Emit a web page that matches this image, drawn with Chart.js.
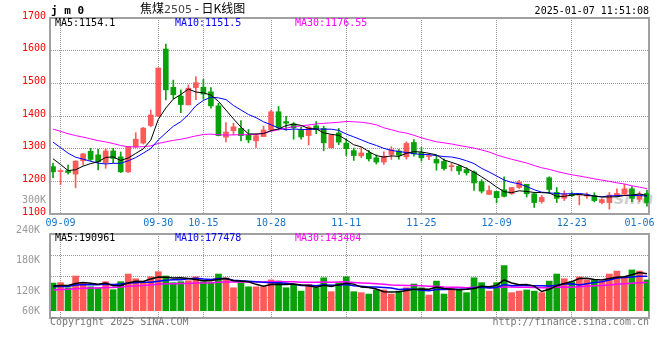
<!DOCTYPE html>
<html>
<head>
<meta charset="utf-8">
<title>焦煤2505 日K线图</title>
<script src="https://cdn.jsdelivr.net/npm/chart.js@4.4.1/dist/chart.umd.min.js"></script>
<style>
  body { margin: 0; background: #fff; }
  #box { position: relative; width: 660px; height: 360px; overflow: hidden;
         font-family: 'DejaVu Sans Mono', monospace; font-size: 10px; line-height: 12px; }
  #box canvas { position: absolute; left: 0; top: 0; }
  .txt { position: absolute; white-space: nowrap; }
</style>
</head>
<body>
<div id="box">
  <div class="txt" style="left:614px;top:188px;font:italic bold 17px 'DejaVu Sans',sans-serif;color:rgba(150,150,150,0.45);">sina</div>
  <canvas id="priceChart" width="660" height="360"></canvas>
  <canvas id="volChart" width="660" height="360"></canvas>

  <div class="txt" style="left:51px;top:4px;font-weight:bold;font-size:11px;line-height:14px;">j m 0</div>
  <div class="txt" style="left:140px;top:0px;font-family:'Noto Sans CJK SC',sans-serif;font-size:12px;line-height:16px;">焦煤<span style="color:#444;font-family:'DejaVu Sans',sans-serif;font-size:11px;">2505</span> - 日K线图</div>
  <div class="txt" style="right:11px;top:5px;">2025-01-07 11:51:08</div>

  <div class="txt" style="left:55px;top:17px;color:#000;">MA5:1154.1</div>
  <div class="txt" style="left:175px;top:17px;color:#0000ff;">MA10:1151.5</div>
  <div class="txt" style="left:295px;top:17px;color:#ff00ff;">MA30:1176.55</div>
  <div class="txt" style="left:22px;top:194px;color:#999;">300K</div>

  <div class="txt" style="left:55px;top:232px;color:#000;">MA5:190961</div>
  <div class="txt" style="left:175px;top:232px;color:#0000ff;">MA10:177478</div>
  <div class="txt" style="left:295px;top:232px;color:#ff00ff;">MA30:143404</div>

  <div class="txt" style="left:50px;top:316px;color:#777;">Copyright 2025 SINA.COM</div>
  <div class="txt" style="right:11px;top:316px;color:#777;">http://finance.sina.com.cn</div>
</div>

<script>
// trading days shown, 09-06 .. 01-07
var dates = [
  '09-06','09-09','09-10','09-11','09-12','09-13','09-18','09-19','09-20','09-23',
  '09-24','09-25','09-26','09-27','09-30','10-08','10-09','10-10','10-11','10-14',
  '10-15','10-16','10-17','10-18','10-21','10-22','10-23','10-24','10-25','10-28',
  '10-29','10-30','10-31','11-01','11-04','11-05','11-06','11-07','11-08','11-11',
  '11-12','11-13','11-14','11-15','11-18','11-19','11-20','11-21','11-22','11-25',
  '11-26','11-27','11-28','11-29','12-02','12-03','12-04','12-05','12-06','12-09',
  '12-10','12-11','12-12','12-13','12-16','12-17','12-18','12-19','12-20','12-23',
  '12-24','12-25','12-26','12-27','12-30','12-31','01-02','01-03','01-06','01-07'
];

var open = [
  1245,1230,1233,1222,1263,1292,1281,1257,1293,1275,
  1229,1305,1317,1371,1400,1605,1488,1461,1434,1487,
  1488,1474,1431,1335,1355,1362,1342,1324,1337,1357,
  1413,1383,1376,1356,1340,1370,1362,1303,1348,1317,
  1294,1278,1286,1272,1259,1282,1293,1275,1319,1288,
  1276,1267,1261,1245,1246,1236,1229,1199,1160,1169,
  1174,1162,1181,1191,1162,1138,1211,1166,1148,1161,
  1158,1155,1156,1135,1135,1155,1161,1177,1145,1163
];
var high = [
  1256,1236,1250,1263,1286,1301,1298,1300,1301,1290,
  1306,1349,1365,1418,1547,1620,1510,1480,1495,1521,
  1512,1487,1439,1380,1378,1386,1359,1345,1369,1418,
  1429,1399,1380,1366,1369,1383,1369,1342,1362,1330,
  1302,1304,1295,1281,1290,1306,1297,1321,1328,1304,
  1283,1280,1269,1256,1249,1242,1232,1205,1186,1169,
  1214,1181,1203,1191,1165,1157,1214,1181,1171,1168,
  1161,1165,1165,1147,1166,1177,1191,1184,1168,1173
];
var low = [
  1211,1190,1222,1180,1250,1262,1235,1240,1257,1227,
  1227,1304,1314,1367,1398,1449,1453,1410,1434,1450,
  1451,1424,1339,1321,1342,1324,1318,1304,1337,1357,
  1357,1357,1329,1329,1311,1346,1294,1303,1312,1279,
  1264,1272,1262,1253,1252,1267,1268,1268,1277,1262,
  1266,1234,1234,1232,1221,1219,1172,1164,1160,1134,
  1152,1160,1178,1152,1120,1133,1163,1135,1141,1153,
  1128,1148,1137,1131,1115,1153,1159,1138,1138,1124
];
var close = [
  1229,1231,1227,1262,1284,1267,1260,1293,1270,1229,
  1306,1329,1363,1403,1547,1480,1465,1435,1485,1502,
  1467,1431,1340,1351,1367,1340,1327,1340,1357,1413,
  1365,1378,1364,1336,1366,1358,1318,1342,1320,1300,
  1279,1287,1269,1259,1277,1297,1280,1316,1284,1272,
  1277,1256,1239,1247,1232,1226,1195,1170,1172,1150,
  1154,1181,1198,1162,1135,1151,1175,1148,1161,1156,
  1160,1158,1141,1144,1158,1163,1177,1148,1161,1135
];
// volume in thousands of lots
var volume = [
  141,143,117,177,143,122,117,148,107,148,
  187,163,140,173,199,177,143,148,153,173,
  148,143,187,168,117,143,122,122,122,157,
  151,117,131,100,135,117,168,97,143,173,
  97,92,85,106,106,85,100,117,136,117,
  80,151,85,114,106,92,168,143,100,143,
  230,92,100,106,100,92,151,187,163,148,
  172,157,157,148,187,202,173,208,202,157
];

// the 29 sessions before the first candle, only needed for the moving averages
var priorClose = [
  1445,1440,1432,1428,1425,1420,1418,1415,1410,1420,
  1345,1340,1332,1325,1330,1328,1335,1338,1340,1334,
  1400,1395,1386,1345,1329,1318,1320,1250,1228
];
var priorVolume = [
  80,85,92,78,88,95,84,90,82,86,93,88,83,90,
  118,130,122,126,128,122,115,125,112,120,118,
  128,118,125,118
];

var tickDates = ['09-09','09-30','10-15','10-28','11-11','11-25','12-09','12-23','01-06'];
var volTicks = [240, 180, 120, 60];

var UP = '#ff5a5a';
var DOWN = '#0aa00a';
var tickIdx = tickDates.map(function (d) { return dates.indexOf(d); });
function candleColor(ctx) {
  return close[ctx.dataIndex] >= open[ctx.dataIndex] ? UP : DOWN;
}

function movingAvg(prior, values, n) {
  var all = prior.concat(values);
  return values.map(function (v, i) {
    var end = prior.length + i + 1;
    var sum = 0;
    for (var k = end - n; k < end; k++) sum += all[k];
    return sum / n;
  });
}

function maLine(values, color, width, axis) {
  return {
    type: 'line',
    data: values.map(function (v, i) { return { x: i, y: v }; }),
    borderColor: color,
    borderWidth: width,
    pointRadius: 0,
    tension: 0,
    order: 1,
    yAxisID: axis
  };
}

function xScale(showLabels, height) {
  return {
    type: 'linear',
    min: -0.27,
    max: 79.27,
    offset: false,
    afterBuildTicks: function (s) { s.ticks = tickIdx.map(function (v) { return { value: v }; }); },
    afterFit: function (s) { s.height = height; },
    ticks: {
      display: showLabels, autoSkip: false, maxRotation: 0, padding: 3, color: '#1673c9',
      callback: function (v) { return dates[v]; }
    },
    grid: {
      offset: false, drawTicks: false,
      color: function (c) { return c.index === tickIdx.length - 1 ? 'rgba(0,0,0,0)' : '#999'; }
    },
    border: { display: false, dash: [1, 1] }
  };
}

var framePlugin = {
  id: 'frame',
  beforeDatasetsDraw: function (chart) {
    var a = chart.chartArea, ctx = chart.ctx;
    ctx.save();
    ctx.strokeStyle = '#a0a0a0';
    ctx.lineWidth = 2;
    ctx.strokeRect(Math.round(a.left) - 1, Math.round(a.top), Math.round(a.right - a.left) + 1, Math.round(a.bottom - a.top));
    ctx.restore();
  }
};

Chart.defaults.font.family = "'DejaVu Sans Mono', monospace";
Chart.defaults.font.size = 10;

var common = {
  responsive: false,
  animation: false,
  devicePixelRatio: 1,
  events: [],
  plugins: { legend: { display: false }, tooltip: { enabled: false } }
};

new Chart(document.getElementById('priceChart'), {
  type: 'bar',
  data: {
    datasets: [
      { data: dates.map(function (d, i) { return { x: i, y: [low[i], high[i]] }; }),
        backgroundColor: candleColor, barThickness: 1, grouped: false, order: 3 },
      { data: dates.map(function (d, i) { return { x: i, y: [open[i], close[i]] }; }),
        backgroundColor: candleColor, barThickness: 5, grouped: false, minBarLength: 1, order: 2 },
      maLine(movingAvg(priorClose, close, 5), '#000000', 1, 'y'),
      maLine(movingAvg(priorClose, close, 10), '#0000ff', 1, 'y'),
      maLine(movingAvg(priorClose, close, 30), '#ff00ff', 1, 'y')
    ]
  },
  options: Object.assign({}, common, {
    layout: { padding: { top: 18, right: 11, left: 0, bottom: 0 } },
    scales: {
      x: xScale(true, 146),
      y: {
        min: 1100, max: 1700,
        afterFit: function (s) { s.width = 51; },
        ticks: { stepSize: 100, color: '#ff0000', padding: 5, labelOffset: -2,
                 callback: function (v) { return String(v); } },
        grid: { drawTicks: false, color: '#999' },
        border: { display: false, dash: [1, 1] }
      }
    }
  }),
  plugins: [framePlugin]
});

new Chart(document.getElementById('volChart'), {
  type: 'bar',
  data: {
    datasets: [
      { data: volume.map(function (v, i) { return { x: i, y: v }; }),
        backgroundColor: candleColor, barThickness: 6, grouped: false, order: 2, yAxisID: 'yv' },
      maLine(movingAvg(priorVolume, volume, 5), '#000000', 1.5, 'yv'),
      maLine(movingAvg(priorVolume, volume, 10), '#0000ff', 1.5, 'yv'),
      maLine(movingAvg(priorVolume, volume, 30), '#ff00ff', 1.5, 'yv')
    ]
  },
  options: Object.assign({}, common, {
    layout: { padding: { top: 234, right: 11, left: 0, bottom: 0 } },
    scales: {
      x: xScale(false, 42),
      yl: {
        position: 'left', min: 74.8, max: 240,
        afterBuildTicks: function (s) {
          s.ticks = volTicks.map(function (v) { return { value: Math.max(v, s.min + 6) }; });
        },
        afterFit: function (s) { s.width = 51; },
        ticks: { color: '#999', padding: 3, labelOffset: -4,
                 callback: function (v, i) { return volTicks[i] + 'K'; } },
        grid: { display: false },
        border: { display: false }
      },
      yv: {
        position: 'left', min: -37.2, max: 391.2,
        afterBuildTicks: function (s) {
          var step = (s.max - s.min) / 4;
          s.ticks = [1, 2, 3].map(function (k) { return { value: s.min + k * step }; });
        },
        afterFit: function (s) { s.width = 0; },
        ticks: { display: false },
        grid: { drawTicks: false, color: '#999' },
        border: { display: false, dash: [1, 1] }
      }
    }
  }),
  plugins: [framePlugin]
});
</script>
</body>
</html>
